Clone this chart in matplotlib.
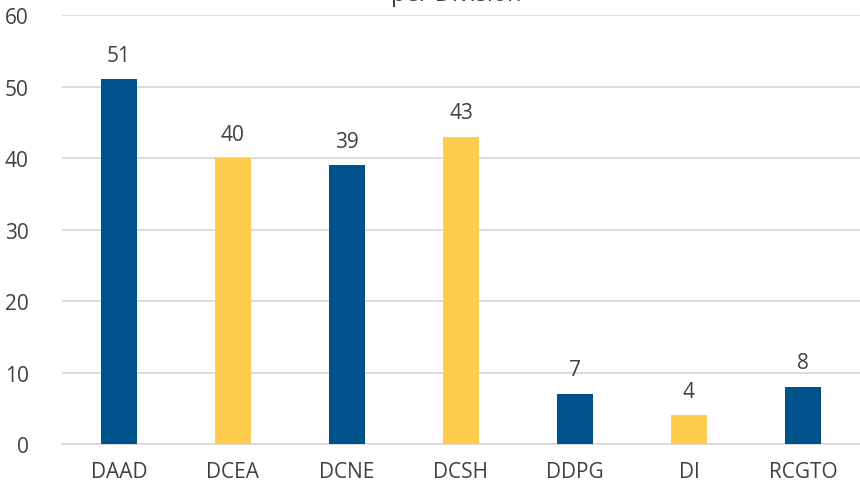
import matplotlib.pyplot as plt

divisions = ['DAAD', 'DCEA', 'DCNE', 'DCSH', 'DDPG', 'DI', 'RCGTO']
counts = [51, 40, 39, 43, 7, 4, 8]
colors = ['#00538A', '#FFCD4E', '#00538A', '#FFCD4E', '#00538A', '#FFCD4E', '#00538A']

plt.rcParams['font.family'] = ['Open Sans', 'DejaVu Sans']
txt = '#404040'

fig = plt.figure(figsize=(8.6, 4.89), dpi=100)
ax = fig.add_axes([0.072, 0.09, 0.928, 0.877])

x = range(len(divisions))
ax.bar(x, counts, width=0.31, color=colors, zorder=3)
for i, v in zip(x, counts):
    ax.text(i, v + 1.9, str(v), ha='center', va='bottom', fontsize=15, color=txt)

ax.set_xlim(-0.5, len(divisions) - 0.5)
ax.set_ylim(0, 60)
ax.set_yticks(range(0, 61, 10))
ax.set_xticks(list(x))
ax.set_xticklabels(divisions)
ax.grid(axis='y', color='#d9d9d9', linewidth=1.3, zorder=0)
for s in ['top', 'right', 'left']:
    ax.spines[s].set_visible(False)
ax.spines['bottom'].set_color('#d9d9d9')
ax.spines['bottom'].set_linewidth(1.3)
ax.tick_params(axis='both', length=0, labelsize=15, colors=txt)
ax.tick_params(axis='y', pad=24)
ax.tick_params(axis='x', pad=12)

# title sits mostly above the visible area in the reference
fig.text(0.53, 1.01, 'per Division', ha='center', va='center', fontsize=17, color=txt)

fig.savefig('out.png', dpi=100)
